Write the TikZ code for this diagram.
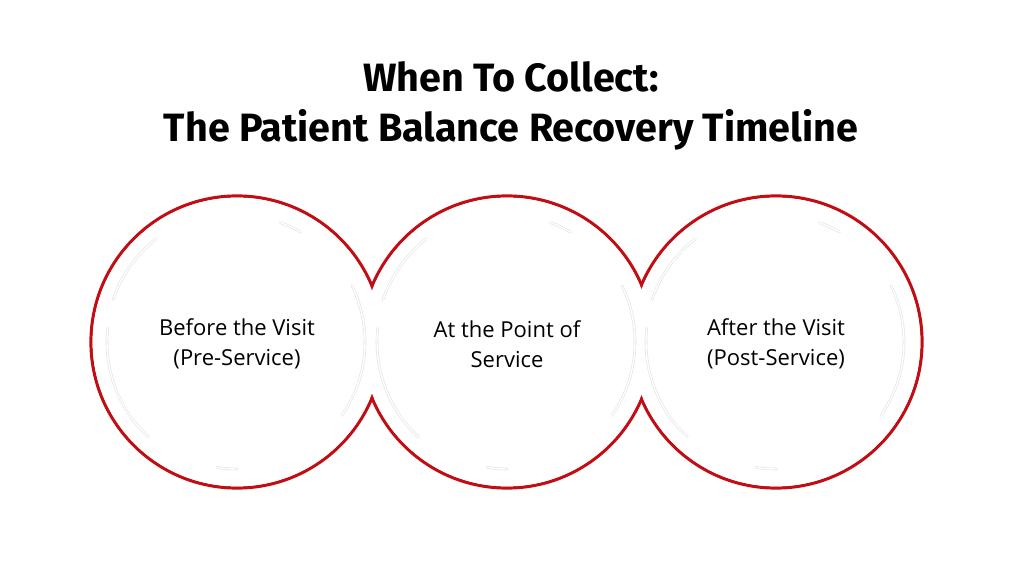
\documentclass[tikz,border=0pt]{standalone}
\usepackage{fontspec}
\setmainfont{Open Sans}
\newfontfamily\titlefont{Fira Sans}
\definecolor{ringred}{RGB}{192,14,20}
\definecolor{faint}{RGB}{226,226,226}
\begin{document}
\begin{tikzpicture}[x=1pt,y=-1pt,
  ring/.style={draw=ringred,line width=3.2pt},
  ringfill/.style={fill=white},
  deco/.style={draw=faint,line width=0.6pt,double=white,double distance=1.4pt,line cap=round},
  label/.style={align=center,font=\fontsize{22}{30}\selectfont,text=black},
  titletext/.style={align=center,font=\titlefont\bfseries\fontsize{39.5}{50}\selectfont,text=black}]
\useasboundingbox[fill=white] (0,0) rectangle (1012,569);
\def\R{146}
\coordinate (c1) at (237,342);
\coordinate (c2) at (507,342);
\coordinate (c3) at (776,342);
% outlines
\foreach \c in {c1,c2,c3}{\draw[ring] (\c) circle (\R);}
\foreach \c in {c1,c2,c3}{\fill[ringfill] (\c) circle (\R-1.6);}
% faint decorative arcs (y axis points down, so angles are mirrored)
\foreach \c in {c1,c2,c3}{
  \draw[deco] (\c) ++(-128:131) arc[start angle=-128,end angle=-161,radius=131];
  \draw[deco] (\c) ++(-174:130) arc[start angle=-174,end angle=-227,radius=130];
  \draw[deco] (\c) ++(-26:128) arc[start angle=-26,end angle=35,radius=128];
  \draw[deco] (\c) ++(-60:127) arc[start angle=-60,end angle=-70,radius=127];
  \draw[deco] (\c) ++(-261:127) arc[start angle=-261,end angle=-270,radius=127];
}
\node[titletext] (title) at (511,106) {When To Collect:\\The Patient Balance Recovery Timeline};
\node[label] (t1) at (237,344) {Before the Visit\\(Pre-Service)};
\node[label] (t2) at (507,344) {At the Point of\\Service};
\node[label] (t3) at (776,344) {After the Visit\\(Post-Service)};
\end{tikzpicture}
\end{document}
